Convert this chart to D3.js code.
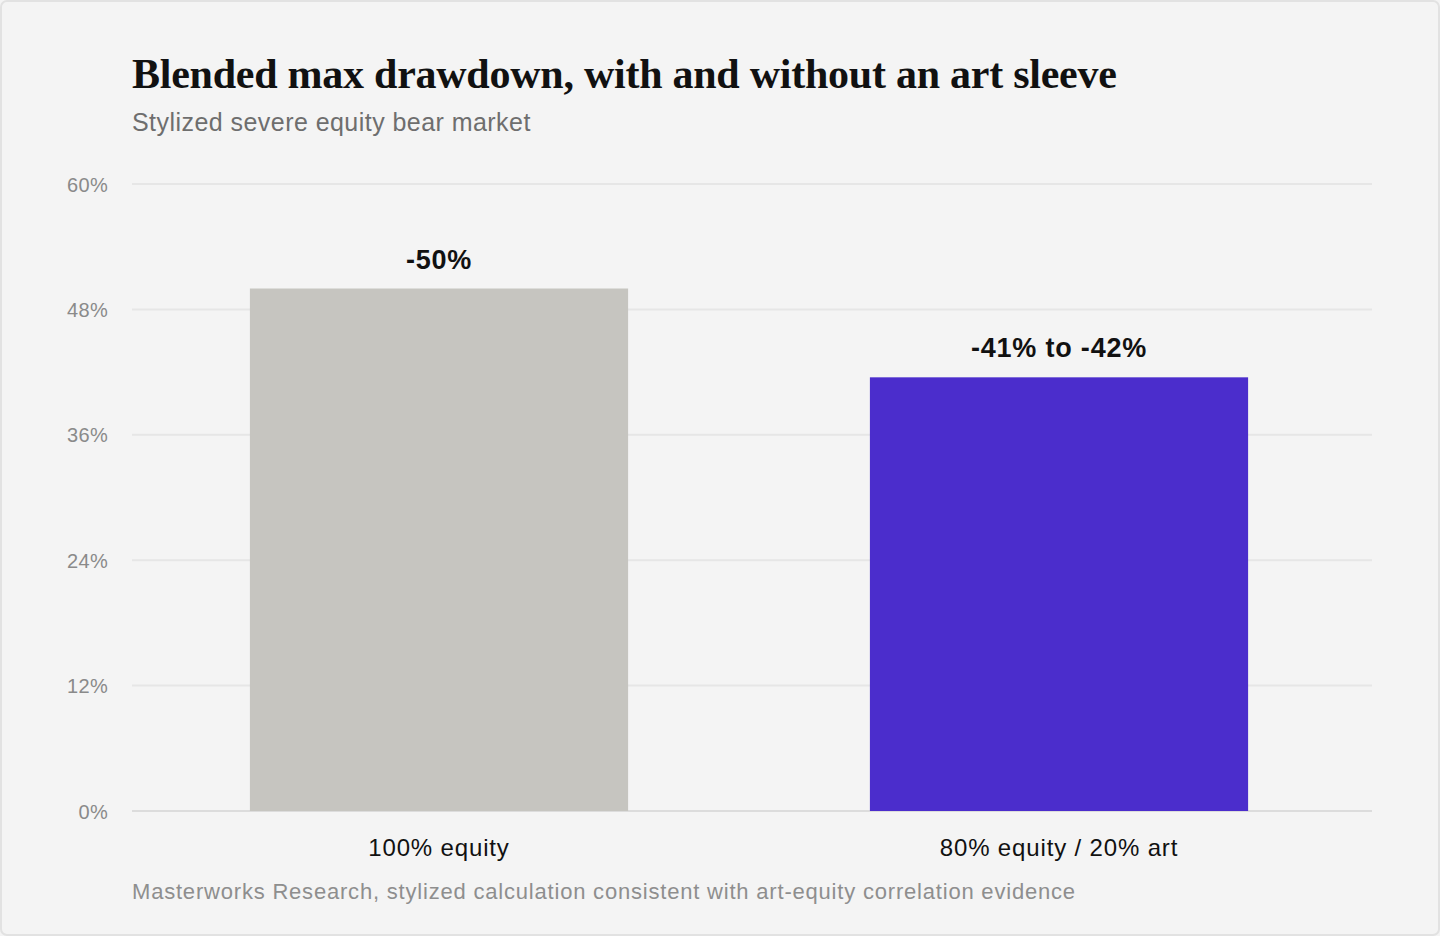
<!DOCTYPE html>
<html>
<head>
<meta charset="utf-8">
<script src="https://cdn.jsdelivr.net/npm/d3@7"></script>
<style>
  html, body { margin: 0; padding: 0; background: #f4f4f4; }
  svg { display: block; }
</style>
</head>
<body>
<div id="chart"></div>
<script>
var categories = ['100% equity', '80% equity / 20% art'];
var drawdowns = [50, 41.5];
var barLabels = ['-50%', '-41% to -42%'];
var barColors = ['#c6c5c0', '#4b2dcc'];
var yTicks = [0, 12, 24, 36, 48, 60];

var width = 1440,
    height = 936;

var margin = {top: 184, right: 68, bottom: 125, left: 132};

var svg = d3.select('#chart').append('svg')
    .attr('width', width)
    .attr('height', height);

// card + border
svg.append('rect')
    .attr('x', 1).attr('y', 1)
    .attr('width', width - 2).attr('height', height - 2)
    .attr('rx', 6)
    .style('fill', '#f4f4f4')
    .style('stroke', '#e2e2e2')
    .style('stroke-width', 2);

var x = d3.scaleBand()
    .domain(categories)
    .range([margin.left - 3, width - margin.right - 3])
    .paddingInner(0.39)
    .paddingOuter(0.195);

var y = d3.scaleLinear()
    .domain([0, 60])
    .range([height - margin.bottom, margin.top]);

// title
svg.append('text')
    .attr('x', 132).attr('y', 88)
    .style('font-family', '"Liberation Serif", "DejaVu Serif", serif')
    .style('font-weight', 'bold')
    .style('font-size', '42px')
    .style('letter-spacing', '-0.25px')
    .style('fill', '#111')
    .text('Blended max drawdown, with and without an art sleeve');

svg.append('text')
    .attr('x', 132).attr('y', 131)
    .style('font-family', '"Liberation Sans", Arial, sans-serif')
    .style('font-size', '25px')
    .style('letter-spacing', '0.45px')
    .style('fill', '#6e6e6e')
    .text('Stylized severe equity bear market');

// gridlines
svg.append('g')
  .selectAll('line')
  .data(yTicks)
  .enter().append('line')
    .attr('x1', margin.left)
    .attr('x2', width - margin.right)
    .attr('y1', function(d) { return y(d); })
    .attr('y2', function(d) { return y(d); })
    .style('stroke', function(d) { return d === 0 ? '#dcdcdc' : '#e6e6e6'; })
    .style('stroke-width', 2);

// y axis labels
var yAxis = d3.axisLeft(y)
    .tickValues(yTicks)
    .tickSize(0)
    .tickPadding(0)
    .tickFormat(function(d) { return d + '%'; });

var yg = svg.append('g')
    .attr('transform', 'translate(108,0)')
    .call(yAxis);
yg.select('.domain').remove();
yg.selectAll('text')
    .attr('dy', '0.35em')
    .style('font-family', '"Liberation Sans", Arial, sans-serif')
    .style('font-size', '20px')
    .style('letter-spacing', '0.3px')
    .style('fill', '#8a8a8a');

// bars
var bars = svg.selectAll('.bar')
    .data(categories)
    .enter().append('g');

bars.append('rect')
    .attr('x', function(d) { return x(d); })
    .attr('width', x.bandwidth())
    .attr('y', function(d, i) { return y(drawdowns[i]); })
    .attr('height', function(d, i) { return y(0) - y(drawdowns[i]); })
    .style('fill', function(d, i) { return barColors[i]; });

bars.append('text')
    .attr('x', function(d) { return x(d) + x.bandwidth() / 2; })
    .attr('y', function(d, i) { return y(drawdowns[i]) - 20; })
    .style('text-anchor', 'middle')
    .style('font-family', '"Liberation Sans", Arial, sans-serif')
    .style('font-weight', 'bold')
    .style('font-size', '27px')
    .style('letter-spacing', '0.8px')
    .style('fill', '#111')
    .text(function(d, i) { return barLabels[i]; });

// x axis labels
var xAxis = d3.axisBottom(x).tickSize(0).tickPadding(0);
var xg = svg.append('g')
    .attr('transform', 'translate(0,' + (y(0) + 45) + ')')
    .call(xAxis);
xg.select('.domain').remove();
xg.selectAll('text')
    .attr('dy', 0)
    .style('font-family', '"Liberation Sans", Arial, sans-serif')
    .style('font-size', '24px')
    .style('letter-spacing', '0.85px')
    .style('fill', '#111');

// source
svg.append('text')
    .attr('x', 132).attr('y', 899)
    .style('font-family', '"Liberation Sans", Arial, sans-serif')
    .style('font-size', '22px')
    .style('letter-spacing', '0.8px')
    .style('fill', '#8e8e8e')
    .text('Masterworks Research, stylized calculation consistent with art-equity correlation evidence');
</script>
</body>
</html>
